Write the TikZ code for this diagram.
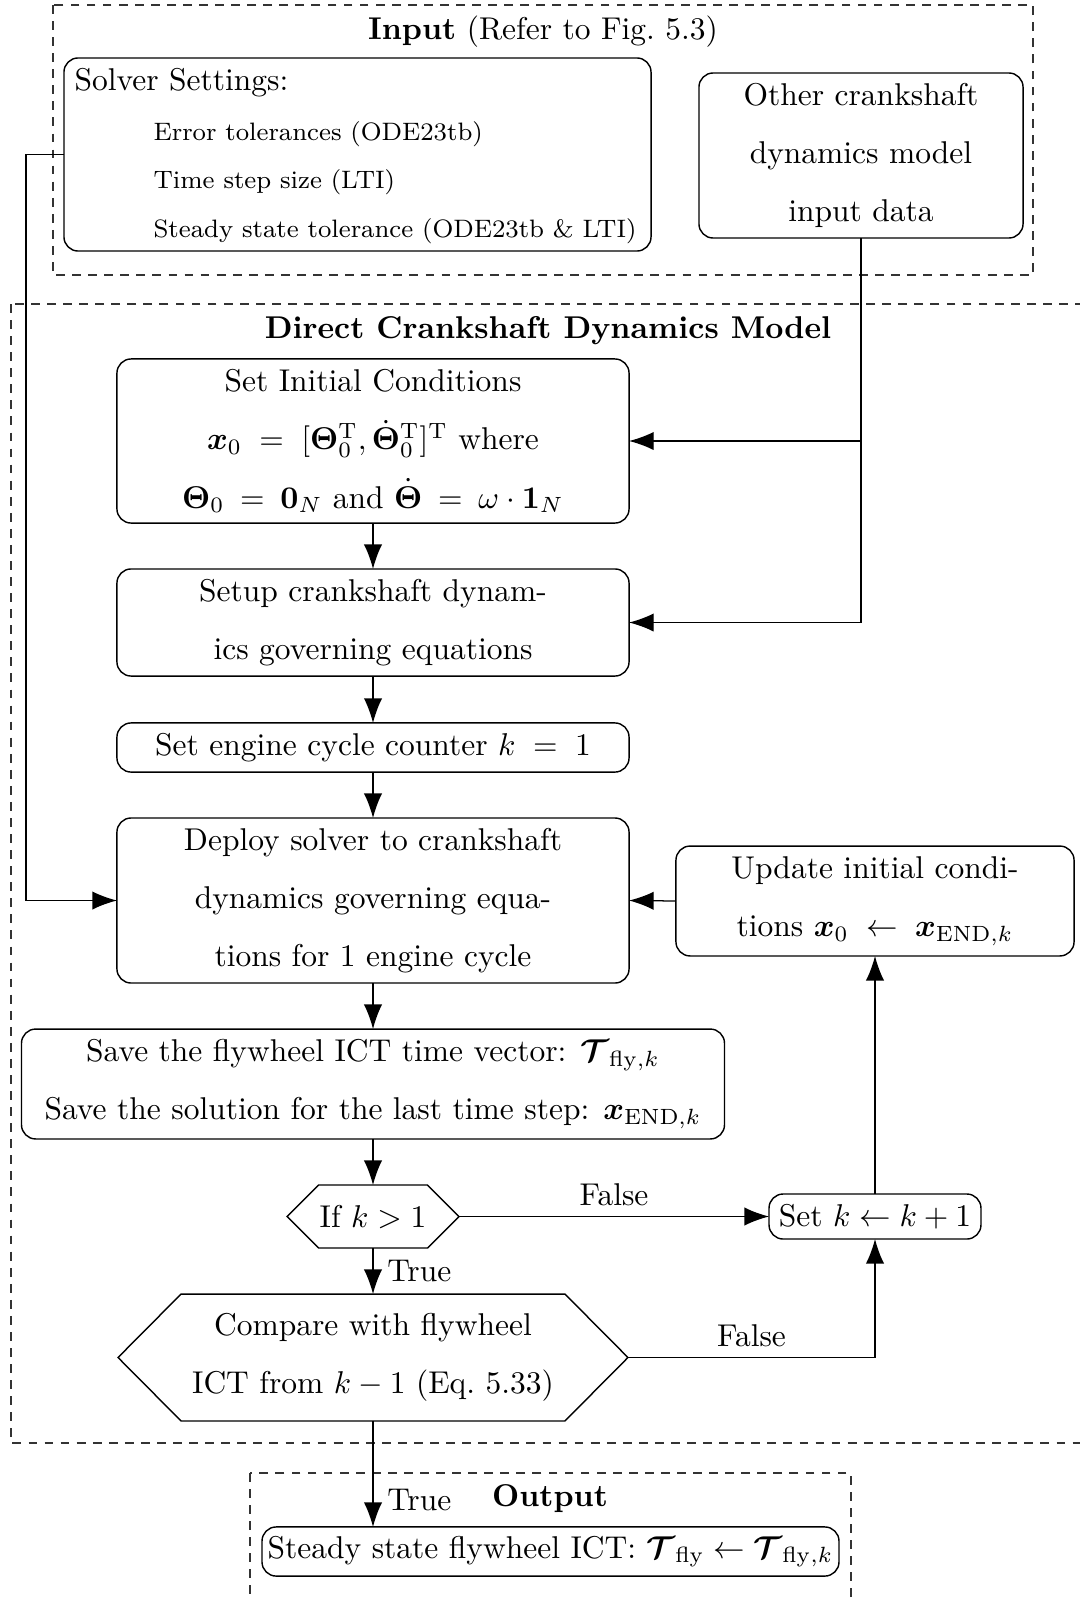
\documentclass[tikz,border=0pt]{standalone}
\usepackage{amsmath,bm}
\usetikzlibrary{arrows.meta}

\begin{document}
\begin{tikzpicture}[x=0.3175pt,y=-0.3175pt,
  every node/.style={font=\fontsize{10}{18.5}\selectfont},
  box/.style={draw, line width=0.45pt, rounded corners=4.5pt, align=center,
              inner sep=0pt, outer sep=0pt},
  plain/.style={inner sep=0pt, outer sep=0pt, align=center},
  arr/.style={line width=0.4pt, -{Latex[length=7.8pt,width=5.8pt]}},
  link/.style={line width=0.4pt},
  frame/.style={draw=black!80, line width=0.4pt, dash pattern=on 2.8pt off 2.3pt},
  lbl/.style={font=\fontsize{10}{12}\selectfont}]

\useasboundingbox (0,0) rectangle (1080,1600);
\clip (0,0) rectangle (1080,1600);

% ---------- group frames ----------
\draw[frame] (53,5) rectangle (1033,275);
\draw[frame] (11,304) rectangle (1095,1443);
\draw[frame] (250,1473) rectangle (851,1620);

\node[anchor=base, inner sep=0pt] (tin) at (543,39) {\textbf{Input} (Refer to Fig.~5.3)};
\node[anchor=base, inner sep=0pt] (tmodel) at (548,338) {\textbf{Direct Crankshaft Dynamics Model}};
\node[anchor=base, inner sep=0pt] (tout) at (550,1506) {\textbf{Output}};

% ---------- input ----------
\node[box, minimum width=186.4pt, minimum height=61.3pt] (solver) at (357.5,154.5) {};
\node[anchor=base west, inner sep=0pt] (sset) at (74,91) {Solver Settings:};
\node[anchor=base west, inner sep=0pt, font=\footnotesize] (sa) at (153,140) {Error tolerances (ODE23tb)};
\node[anchor=base west, inner sep=0pt, font=\footnotesize] (sb) at (153,188) {Time step size (LTI)};
\node[anchor=base west, inner sep=0pt, font=\footnotesize] (sc) at (153,237) {Steady state tolerance (ODE23tb \& LTI)};

\node[box, minimum width=102.9pt, minimum height=52.4pt] (other) at (861,155.5)
  {Other crankshaft\\dynamics model\\input data};

% ---------- model ----------
\node[box, minimum width=162.6pt, minimum height=52.1pt] (setic) at (373,441)
  {Set Initial Conditions\\
   $\bm{x}_0\;=\;[\bm{\Theta}_0^{\mathrm{T}},\dot{\bm{\Theta}}_0^{\mathrm{T}}]^{\mathrm{T}}$ where\\
   $\bm{\Theta}_0\:=\:\bm{0}_N$ and $\dot{\bm{\Theta}}\:=\:\omega\cdot\bm{1}_N$};

\node[box, minimum width=162.6pt, minimum height=34pt] (setup) at (373,622.5)
  {Setup crankshaft dynam-\\ics governing equations};

\node[box, minimum width=162.6pt, minimum height=15.6pt] (counter) at (373,747.5)
  {Set engine cycle counter $k\;=\;1$};

\node[box, minimum width=162.6pt, minimum height=52.4pt] (deploy) at (373,900.5)
  {Deploy solver to crankshaft\\dynamics governing equa-\\tions for 1 engine cycle};

\node[box, minimum width=126.4pt, minimum height=34.9pt] (update) at (875,901)
  {Update initial condi-\\tions $\bm{x}_0\;\leftarrow\;\bm{x}_{\mathrm{END},k}$};

\node[box, minimum width=223.2pt, minimum height=34.9pt] (save) at (373,1084)
  {Save the flywheel ICT time vector: $\bm{\mathcal{T}}_{\mathrm{fly},k}$\\
   Save the solution for the last time step: $\bm{x}_{\mathrm{END},k}$};

% decision: k > 1
\node[plain, minimum width=54.6pt, minimum height=20pt] (ifk) at (373,1216.5) {If $k>1$};
\draw[line width=0.45pt] (ifk.west) -- ([xshift=10pt]ifk.north west) -- ([xshift=-10pt]ifk.north east)
  -- (ifk.east) -- ([xshift=-10pt]ifk.south east) -- ([xshift=10pt]ifk.south west) -- cycle;

\node[box, minimum width=67.3pt, minimum height=14.3pt] (setk) at (875,1216.5)
  {Set $k\leftarrow k+1$};

% decision: steady state reached
\node[plain, minimum width=161.9pt, minimum height=40.3pt] (cmp) at (373,1357.5)
  {Compare with flywheel\\ICT from $k-1$ (Eq.~5.33)};
\draw[line width=0.45pt] (cmp.west) -- ([xshift=20pt]cmp.north west) -- ([xshift=-20pt]cmp.north east)
  -- (cmp.east) -- ([xshift=-20pt]cmp.south east) -- ([xshift=20pt]cmp.south west) -- cycle;

% ---------- output ----------
\node[box, minimum width=183.2pt, minimum height=15.6pt] (steady) at (550.5,1551.5)
  {Steady state flywheel ICT: $\bm{\mathcal{T}}_{\mathrm{fly}}\leftarrow\bm{\mathcal{T}}_{\mathrm{fly},k}$};

% ---------- connectors ----------
\draw[arr] (solver.west) -- ++(-38,0) |- (deploy.west);
\draw[arr] (other.south) |- (setup.east);
\draw[arr] (other.south |- setic.east) -- (setic.east);

\draw[arr] (setic.south) -- (setup.north);
\draw[arr] (setup.south) -- (counter.north);
\draw[arr] (counter.south) -- (deploy.north);
\draw[arr] (deploy.south) -- (save.north);
\draw[arr] (save.south) -- (ifk.north);

\draw[arr] (ifk.east) -- node[lbl, above] {False} (setk.west);
\draw[arr] (ifk.south) -- node[lbl, right=1pt, pos=0.5] {True} (cmp.north);
\draw[arr] (cmp.east) -| node[lbl, above, pos=0.25] {False} (setk.south);
\draw[arr] (setk.north) -- (update.south);
\draw[arr] (update.west) -- (deploy.east);
\draw[arr] (cmp.south) -- node[lbl, right=1pt, pos=0.745] {True} (cmp.south |- steady.north);

\end{tikzpicture}
\end{document}
